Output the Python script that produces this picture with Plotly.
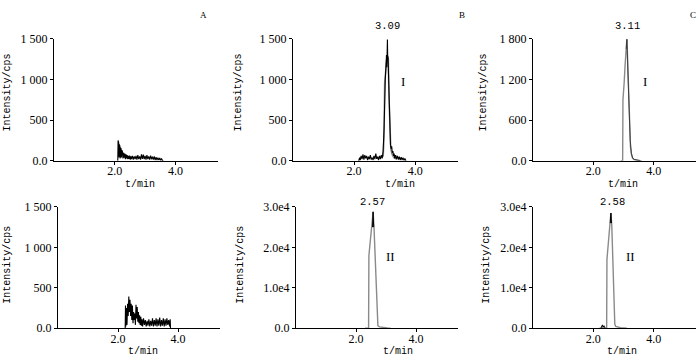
import plotly.graph_objects as go

# ---------------- data ----------------
# Panel A (top): blank sample, channel I
a1_t = [2.10, 2.11, 2.12, 2.13, 2.14, 2.15, 2.16, 2.17, 2.18, 2.19, 2.20, 2.21, 2.22, 2.23, 2.24, 2.25,
        2.27, 2.29, 2.31, 2.33, 2.35, 2.37, 2.39, 2.41, 2.43, 2.45, 2.47, 2.49, 2.51, 2.53, 2.55, 2.58,
        2.61, 2.64, 2.67, 2.70, 2.73, 2.76, 2.79, 2.82, 2.85, 2.88, 2.91, 2.94, 2.97, 3.00, 3.03, 3.06,
        3.09, 3.12, 3.15, 3.18, 3.21, 3.24, 3.27, 3.30, 3.33, 3.36, 3.39, 3.42, 3.45, 3.48, 3.51, 3.54,
        3.57, 3.60]
a1_i = [0, 250, 60, 220, 40, 200, 90, 180, 30, 160, 70, 150, 40, 130, 60, 120,
        30, 100, 40, 90, 20, 80, 30, 70, 20, 60, 25, 65, 15, 55, 20, 60,
        15, 55, 20, 60, 15, 70, 20, 55, 15, 80, 25, 75, 20, 60, 15, 70,
        20, 55, 15, 65, 20, 50, 15, 55, 10, 45, 10, 40, 10, 35, 5, 30,
        5, 0]

# Panel B (top): sample, channel I
b1_t_black = [2.15, 2.18, 2.20, 2.23, 2.26, 2.29, 2.32, 2.35, 2.38, 2.41, 2.44, 2.47, 2.50, 2.53, 2.56,
              2.59, 2.62, 2.65, 2.68, 2.71, 2.74, 2.77, 2.80, 2.83, 2.86, 2.89, 2.92, 2.95, 2.98, 3.00,
              3.02, 3.04, 3.06, 3.07, 3.09, 3.10, 3.11, 3.12, 3.14, 3.15, 3.17, 3.19, 3.21, 3.23, 3.25,
              3.27, 3.29, 3.31, 3.33, 3.36, 3.39, 3.42, 3.45, 3.48, 3.51, 3.54, 3.57, 3.60, 3.63, 3.66, 3.70]
b1_i_black = [0, 40, 10, 60, 20, 80, 15, 70, 30, 60, 10, 50, 20, 70, 15,
              40, 10, 60, 20, 90, 25, 50, 10, 60, 20, 70, 30, 120, 400, 900,
              1000, 1150, 1300, 1150, 1490, 1250, 1280, 1100, 800, 600, 400, 200, 150, 180, 100,
              120, 60, 90, 30, 70, 20, 60, 15, 50, 10, 45, 10, 40, 5, 30, 0]
b1_t_gray = [2.95, 2.98, 3.00, 3.02, 3.04, 3.06, 3.08, 3.10, 3.12, 3.14, 3.16, 3.18, 3.20, 3.24, 3.30, 3.40]
b1_i_gray = [50, 300, 950, 1050, 1200, 1280, 1300, 1280, 1250, 800, 500, 300, 150, 80, 40, 20]

# Panel C (top): standard, channel I
c1_t_gray = [2.90, 2.97, 2.98, 3.00, 3.02, 3.05, 3.08, 3.10, 3.11, 3.12, 3.14, 3.16, 3.18, 3.20, 3.23,
             3.26, 3.30, 3.35, 3.45, 3.55, 3.60]
c1_i_gray = [0, 0, 900, 1000, 1150, 1400, 1650, 1790, 1800, 1700, 1350, 1000, 700, 400, 200,
             100, 40, 20, 10, 5, 0]
c1_t_black = [3.09, 3.11, 3.13, 3.16, 3.19, 3.22, 3.26, 3.30, 3.36, 3.45, 3.55]
c1_i_black = [1650, 1790, 1500, 1050, 650, 300, 110, 40, 20, 10, 0]

# Panel A (bottom): blank sample, channel II
a2_t = [2.24, 2.25, 2.26, 2.28, 2.30, 2.32, 2.34, 2.36, 2.38, 2.40, 2.42, 2.44, 2.46, 2.48, 2.50,
        2.52, 2.54, 2.56, 2.58, 2.60, 2.62, 2.64, 2.66, 2.68, 2.70, 2.72, 2.74, 2.76, 2.78, 2.80,
        2.82, 2.85, 2.88, 2.91, 2.94, 2.97, 3.00, 3.03, 3.06, 3.09, 3.12, 3.15, 3.18, 3.21, 3.24,
        3.27, 3.30, 3.33, 3.36, 3.39, 3.42, 3.45, 3.48, 3.51, 3.54, 3.57, 3.60, 3.63, 3.66, 3.69,
        3.72, 3.74, 3.75]
a2_i = [0, 280, 20, 250, 40, 300, 150, 390, 200, 350, 150, 300, 100, 280, 60,
        200, 100, 180, 40, 290, 120, 260, 80, 200, 60, 160, 40, 140, 30, 110,
        20, 120, 40, 100, 20, 90, 30, 110, 20, 90, 30, 120, 20, 100, 30,
        120, 20, 110, 30, 130, 20, 100, 30, 120, 20, 110, 30, 120, 40, 100,
        20, 110, 0]

# Panel B (bottom): sample, channel II
b2_t_gray = [2.30, 2.42, 2.43, 2.46, 2.50, 2.54, 2.57, 2.60, 2.63, 2.66, 2.68, 2.70, 2.73, 2.78,
             2.85, 2.95, 3.05, 3.15]
b2_i_gray = [0, 0, 18000, 20000, 23000, 26500, 28800, 25000, 19000, 12000, 6000, 2000, 600, 300,
             200, 100, 50, 0]
b2_t_black = [2.55, 2.57, 2.59]
b2_i_black = [25000, 28800, 25000]

# Panel C (bottom): standard, channel II
c2_t_gray = [2.20, 2.44, 2.45, 2.48, 2.52, 2.55, 2.58, 2.61, 2.64, 2.67, 2.69, 2.71, 2.74, 2.80,
             2.90, 3.00, 3.11]
c2_i_gray = [0, 0, 17000, 20000, 23000, 26500, 28500, 25500, 19000, 11000, 4000, 1000, 400, 250,
             120, 60, 0]
c2_t_noise = [2.25, 2.28, 2.30, 2.32, 2.35, 2.38, 2.40]
c2_i_noise = [0, 300, 800, 200, 600, 100, 0]
c2_t_top = [2.56, 2.58, 2.60]
c2_i_top = [26000, 28500, 26000]

# ticks
x_tickvals = [2.0, 4.0]
x_ticktext = ["2.0", "4.0"]
y15_vals = [0, 500, 1000, 1500]
y15_text = ["0.0", "500", "1 000", "1 500"]
y18_vals = [0, 600, 1200, 1800]
y18_text = ["0.0", "600", "1 200", "1 800"]
y3e4_vals = [0, 10000, 20000, 30000]
y3e4_text = ["0.0", "1.0e4", "2.0e4", "3.0e4"]

peak_labels = ["3.09", "3.11", "2.57", "2.58"]
panel_letters = ["A", "B", "C"]

# ---------------- figure ----------------
W, H = 700, 363
MONO = "Liberation Mono"
SERIF = "Liberation Serif"

def px(x):
    return x / W

def py(y):
    return 1 - y / H

fig = go.Figure()

def line(t, i, ax, color, width=1.1):
    fig.add_trace(go.Scatter(x=t, y=i, mode="lines", xaxis="x" + ax, yaxis="y" + ax,
                             line=dict(color=color, width=width), showlegend=False,
                             hoverinfo="skip"))

GRAY = "#8a8a8a"
BLACK = "#000000"
line(a1_t, a1_i, "", BLACK)
line(b1_t_gray, b1_i_gray, "2", GRAY, 1.6)
line(b1_t_black, b1_i_black, "2", BLACK)
line(c1_t_gray, c1_i_gray, "3", GRAY, 1.4)
line(c1_t_black, c1_i_black, "3", "#333333", 0.9)
line(a2_t, a2_i, "4", BLACK)
line(b2_t_gray, b2_i_gray, "5", GRAY, 1.4)
line(b2_t_black, b2_i_black, "5", BLACK, 1.0)
line(c2_t_gray, c2_i_gray, "6", GRAY, 1.4)
line(c2_t_noise, c2_i_noise, "6", BLACK, 1.0)
line(c2_t_top, c2_i_top, "6", BLACK, 1.0)

# panel geometry in pixels: (x0, x1, ytop, yzero)
panels = [
    (54, 218, 33, 160, y15_vals, y15_text, 1500),
    (293, 458, 33, 160, y15_vals, y15_text, 1500),
    (533, 696, 33, 160, y18_vals, y18_text, 1800),
    (58, 220, 208, 334, y15_vals, y15_text, 1500),
    (296, 458, 208, 334, y3e4_vals, y3e4_text, 30000),
    (533, 696, 208, 334, y3e4_vals, y3e4_text, 30000),
]

layout = dict(width=W, height=H, margin=dict(l=0, r=0, t=0, b=0),
              paper_bgcolor="white", plot_bgcolor="white", showlegend=False)

for k, (x0, x1, yt, yz, yv, ytx, ymax) in enumerate(panels):
    sfx = "" if k == 0 else str(k + 1)
    layout["xaxis" + sfx] = dict(domain=[px(x0), px(x1)], range=[0, 5.4], anchor="y" + sfx,
                                 tickvals=x_tickvals, ticktext=x_ticktext, ticks="outside",
                                 ticklen=3, tickcolor="black", showline=True, linecolor="black",
                                 linewidth=1, showgrid=False, zeroline=False,
                                 ticklabelstandoff=-4,
                                 tickfont=dict(family=SERIF, size=12, color="black"))
    layout["yaxis" + sfx] = dict(domain=[py(yz), py(yt)], range=[0, ymax], anchor="x" + sfx,
                                 tickvals=yv, ticktext=ytx, ticks="outside",
                                 ticklen=3, tickcolor="black", showline=True, linecolor="black",
                                 linewidth=1, showgrid=False, zeroline=False,
                                 tickfont=dict(family=SERIF, size=12, color="black"))

fig.update_layout(**layout)

ann = []
def text(x, y, s, size=10, family=MONO, angle=0):
    ann.append(dict(x=px(x), y=py(y), xref="paper", yref="paper", text=s, showarrow=False,
                    xanchor="center", yanchor="middle", textangle=angle,
                    font=dict(family=family, size=size, color="black")))

# y titles
for (x, y) in [(8, 89), (239, 89), (484, 89), (8, 268), (241, 268), (487, 268)]:
    text(x, y, "Intensity/cps", 10, MONO, -90)
# x titles
for (x, y) in [(140, 185), (400, 185), (623, 185), (143, 358), (398, 358), (622, 358)]:
    text(x, y, "t/min", 10, MONO)
# panel letters
for (x, y), s in zip([(203, 8), (462, 8), (693, 8)], panel_letters):
    text(x, y, s, 9, SERIF)
# peak labels
for (x, y), s in zip([(387, 20), (627, 20), (372, 203), (612, 203)], peak_labels):
    text(x, y, s, 10.5, MONO)
# compound numerals
for (x, y), s in zip([(403, 77), (645, 77), (390, 260), (630, 260)], ["I", "I", "II", "II"]):
    text(x, y, s, 13, SERIF)

fig.update_layout(annotations=ann)
fig.write_html("out.html", config={"displayModeBar": False},
               post_script="document.body.style.margin='0';")
